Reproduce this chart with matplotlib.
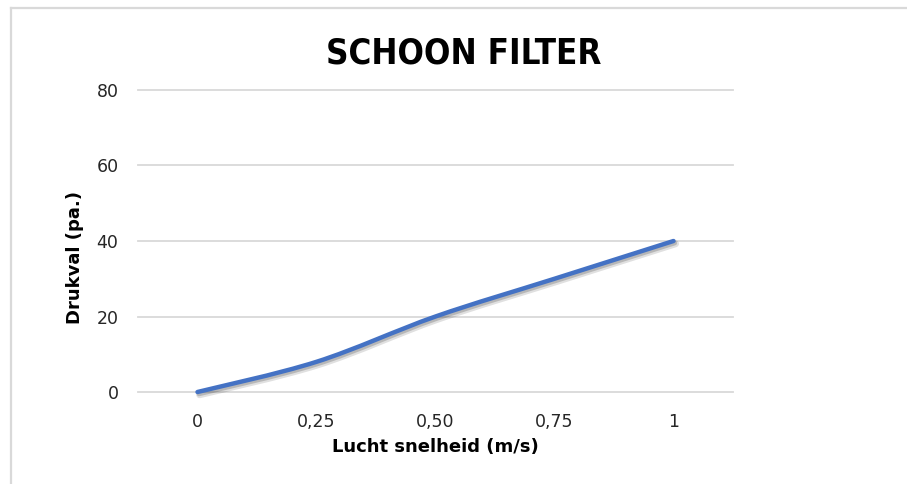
import matplotlib
matplotlib.use("Agg")
import matplotlib.pyplot as plt
from matplotlib.path import Path
from matplotlib.patches import PathPatch
from matplotlib.lines import Line2D
import matplotlib.patheffects as pe
import numpy as np

categories = ["0", "0,25", "0,50", "0,75", "1"]
drukval = [0, 8, 20, 30, 40]
title = "SCHOON FILTER"
xlabel = "Lucht snelheid (m/s)"
ylabel = "Drukval (pa.)"
yticks = [0, 20, 40, 60, 80]

W, H = 907, 484
fig = plt.figure(figsize=(W / 100, H / 100), dpi=100)
fig.patch.set_facecolor("white")

# outer chart border: only top and left edges are visible
bx, by = 11 / W, 1 - 8 / H
fig.lines.append(Line2D([bx, 1.0], [by, by], transform=fig.transFigure,
                        color="#d9d9d9", linewidth=1.6))
fig.lines.append(Line2D([bx, bx], [0.0, by], transform=fig.transFigure,
                        color="#d9d9d9", linewidth=1.6))

ax = fig.add_axes([138 / W, 1 - 392 / H, (733 - 138) / W, (392 - 90) / H])
ax.set_xlim(-0.5, len(categories) - 0.5)
ax.set_ylim(0, 80)
for s in ax.spines.values():
    s.set_visible(False)
ax.set_yticks(yticks)
ax.set_xticks(range(len(categories)))
ax.set_xticklabels(categories)
ax.tick_params(length=0, labelsize=12.5, colors="#262626", pad=15)
ax.tick_params(axis="y", pad=14)
for y in yticks:
    ax.axhline(y, color="#d9d9d9", linewidth=1.3, zorder=1, clip_on=False)

# smoothed line (Bezier, Catmull-Rom style)
xs = np.arange(len(drukval), dtype=float)
ys = np.array(drukval, dtype=float)
pts = np.column_stack([xs, ys])
verts = [tuple(pts[0])]
codes = [Path.MOVETO]
n = len(pts)
for i in range(n - 1):
    p0 = pts[max(i - 1, 0)]
    p1 = pts[i]
    p2 = pts[i + 1]
    p3 = pts[min(i + 2, n - 1)]
    c1 = p1 + (p2 - p0) / 6.0
    c2 = p2 - (p3 - p1) / 6.0
    verts += [tuple(c1), tuple(c2), tuple(p2)]
    codes += [Path.CURVE4] * 3
path = Path(verts, codes)
patch = PathPatch(path, facecolor="none", edgecolor="#4472c4", linewidth=3.2,
                  capstyle="round", joinstyle="round", zorder=3, clip_on=False)
patch.set_path_effects([
    pe.SimpleLineShadow(offset=(1.5, -2.0), shadow_color="black", alpha=0.12,
                        linewidth=5),
    pe.SimpleLineShadow(offset=(1.0, -1.5), shadow_color="black", alpha=0.18),
    pe.Normal(),
])
ax.add_patch(patch)

fig.text(464 / W, 1 - 63 / H, title, ha="center", va="baseline",
         fontsize=25, fontweight="bold", fontstretch="condensed",
         color="black")
fig.text(435 / W, 1 - 447 / H, xlabel, ha="center", va="center",
         fontsize=13, fontweight="bold", color="black")
fig.text(75 / W, 1 - 257 / H, ylabel, ha="center", va="center", rotation=90,
         fontsize=13, fontweight="bold", color="black")

fig.savefig("out.png", dpi=100)
